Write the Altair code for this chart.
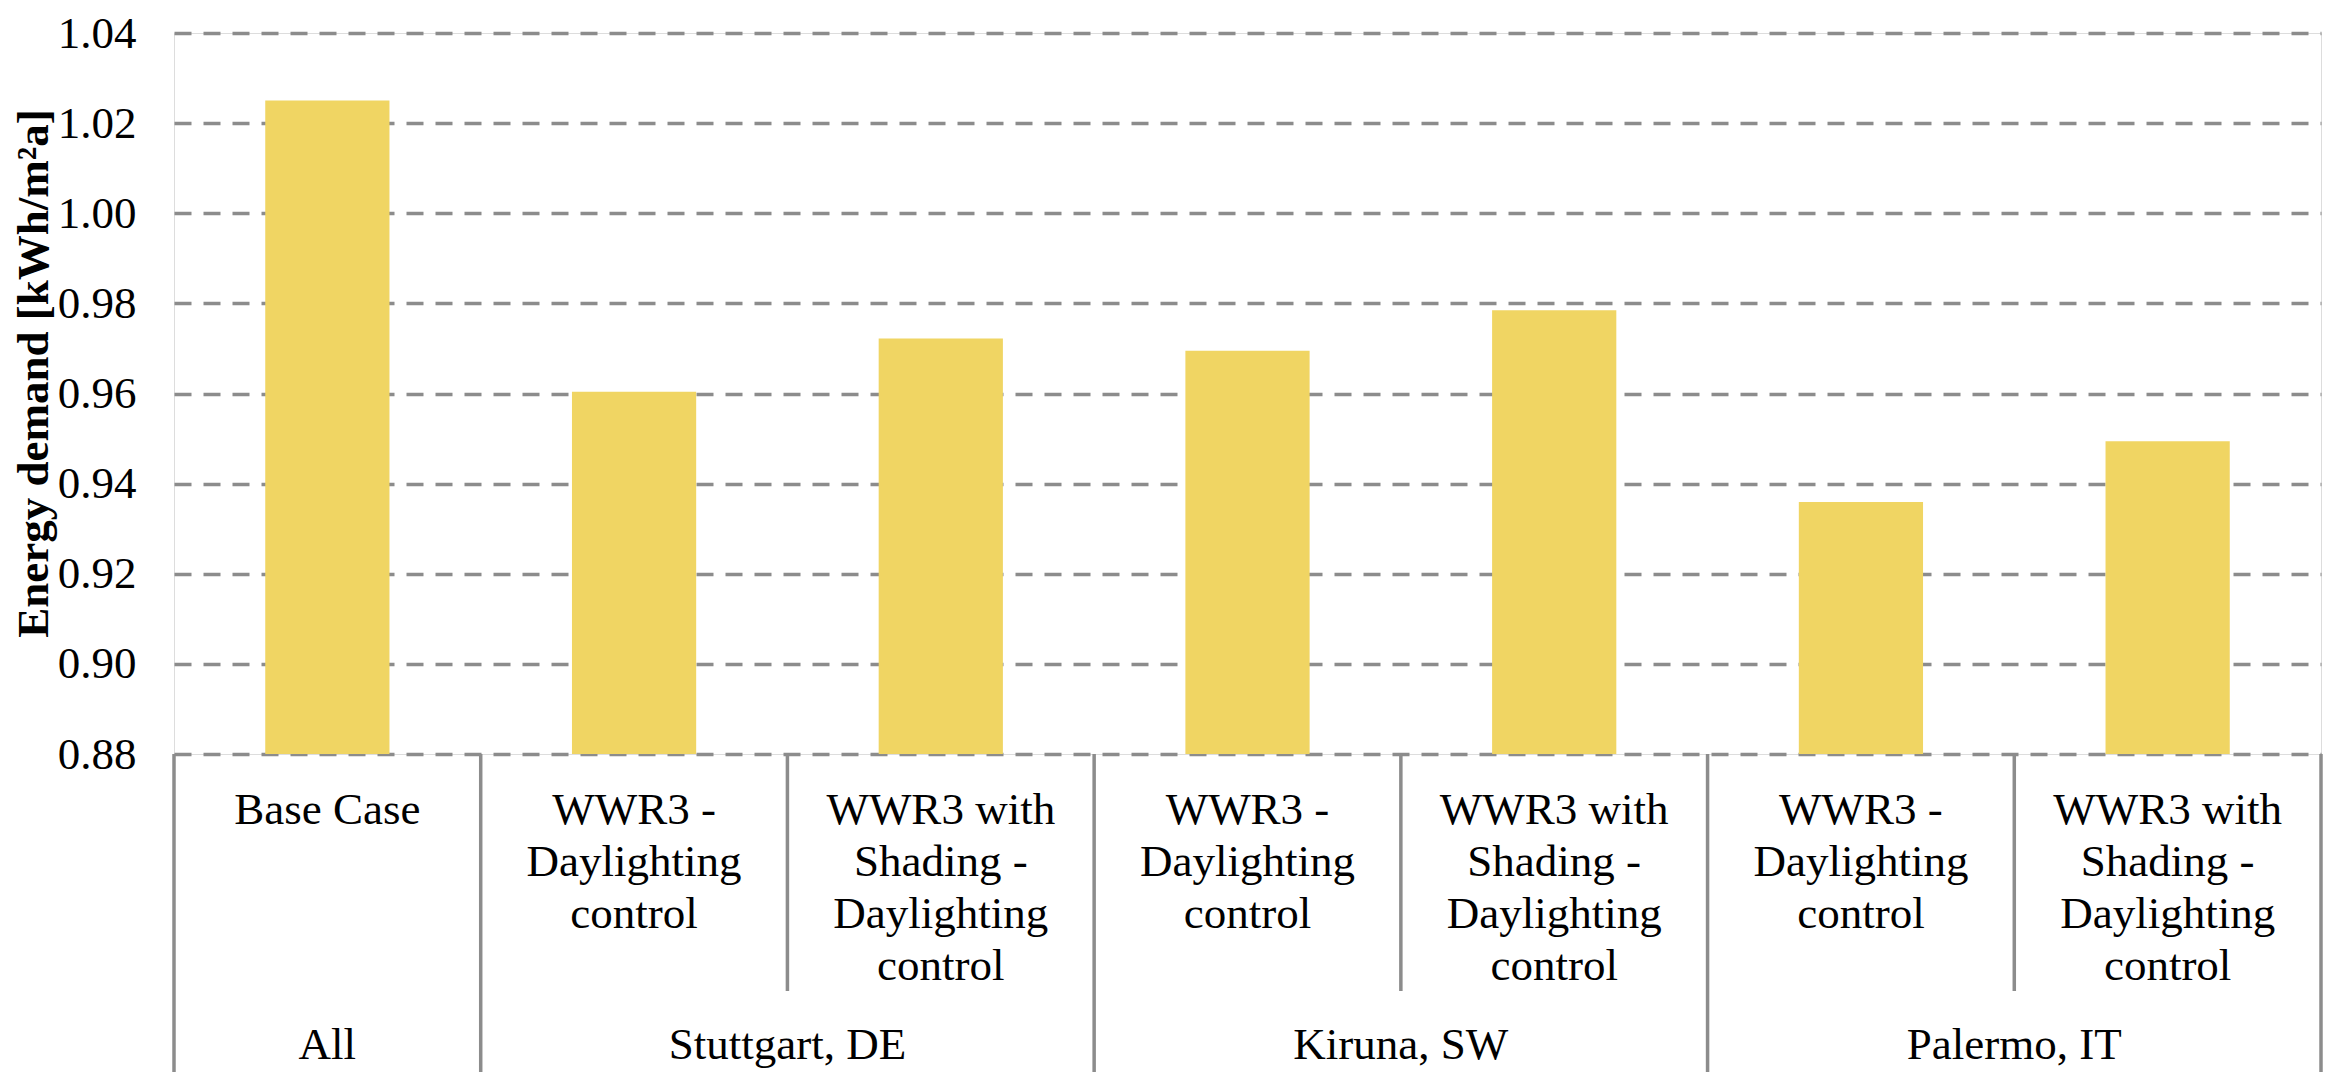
import altair as alt
import pandas as pd

# ---- data ----
groups = ["All", "Stuttgart, DE", "Stuttgart, DE", "Kiruna, SW", "Kiruna, SW",
          "Palermo, IT", "Palermo, IT"]
cases = [
    "Base Case",
    "WWR3 -\nDaylighting\ncontrol",
    "WWR3 with\nShading -\nDaylighting\ncontrol",
    "WWR3 -\nDaylighting\ncontrol",
    "WWR3 with\nShading -\nDaylighting\ncontrol",
    "WWR3 -\nDaylighting\ncontrol",
    "WWR3 with\nShading -\nDaylighting\ncontrol",
]
energy = [1.025, 0.9604, 0.9722, 0.9695, 0.9785, 0.9359, 0.9494]
y_ticks = [0.88, 0.90, 0.92, 0.94, 0.96, 0.98, 1.00, 1.02, 1.04]
y_title = "Energy demand [kWh/m²a]"

# ---- tables built from the arrays ----
keys = [f"{i}|{g}" for i, g in enumerate(groups)]
df = pd.DataFrame({"key": keys, "group": groups, "case": cases, "energy": energy})
df["first"] = df["group"] != df["group"].shift()

group_order = list(dict.fromkeys(groups))
grp_rows = []
for g in group_order:
    ks = [k for k, gg in zip(keys, groups) if gg == g]
    grp_rows.append({"group": g, "size": len(ks),
                     "key": ks[0] if len(ks) == 1 else ks[1]})
gdf = pd.DataFrame(grp_rows)

FONT = "Liberation Serif"
GRAY = "#8c8c8c"
BAR = "#F0D563"
W, H = 2147, 721

xs = alt.Scale(domain=keys, paddingInner=0, paddingOuter=0)


def xk(bp):
    return alt.X("key:N", sort=None, scale=xs, bandPosition=bp, axis=None)


bars = alt.Chart(df).mark_bar(color=BAR, width=alt.RelativeBandSize(0.405)).encode(
    x=alt.X("key:N", sort=None, scale=xs,
            axis=alt.Axis(title=None, labels=False, ticks=False, grid=False,
                          domain=True, domainColor=GRAY, domainWidth=3.5)),
    y=alt.Y("energy:Q",
            scale=alt.Scale(domain=[0.88, 1.04], zero=False, nice=False),
            axis=alt.Axis(values=y_ticks, format=".2f", title=y_title,
                          grid=True, gridColor=GRAY, gridWidth=3.5,
                          gridDash=[17, 12], domain=False, ticks=False,
                          tickSize=0, labelPadding=38, labelFont=FONT,
                          labelFontSize=45, labelColor="black",
                          titleFont=FONT, titleFontSize=45,
                          titleFontWeight="bold", titleColor="black",
                          titleX=-118, titleY=340, titleAngle=270,
                          titleBaseline="bottom", titleAlign="center")),
    y2=alt.datum(0.88),
)

long_sep = alt.Chart(df[df["first"]]).mark_rule(color=GRAY, strokeWidth=3.5).encode(
    x=xk(0), y=alt.value(H), y2=alt.value(H + 318))
end_sep = alt.Chart(df.tail(1)).mark_rule(color=GRAY, strokeWidth=3.5).encode(
    x=xk(1), y=alt.value(H), y2=alt.value(H + 318))
short_sep = alt.Chart(df[~df["first"]]).mark_rule(color=GRAY, strokeWidth=3.5).encode(
    x=xk(0), y=alt.value(H), y2=alt.value(H + 237))

case_text = alt.Chart(df).mark_text(
    font=FONT, fontSize=45, lineBreak="\n", lineHeight=52, align="center",
    baseline="alphabetic", color="black").encode(
    x=xk(0.5), y=alt.value(H + 70), text="case:N")

grp1 = alt.Chart(gdf[gdf["size"] == 1]).mark_text(
    font=FONT, fontSize=45, align="center", baseline="alphabetic", color="black").encode(
    x=xk(0.5), y=alt.value(H + 305), text="group:N")
grp2 = alt.Chart(gdf[gdf["size"] == 2]).mark_text(
    font=FONT, fontSize=45, align="center", baseline="alphabetic", color="black").encode(
    x=xk(0), y=alt.value(H + 305), text="group:N")

chart = alt.layer(bars, long_sep, end_sep, short_sep, case_text, grp1, grp2).properties(
    width=W, height=H,
    autosize=alt.AutoSizeParams(type="none"),
    padding={"left": 166, "top": 25, "right": 2, "bottom": 318},
).configure_view(stroke=None).configure_axis(
    labelFont=FONT, titleFont=FONT
).configure(background="white")

chart.save("out.html", embed_options={"renderer": "svg", "actions": False})
